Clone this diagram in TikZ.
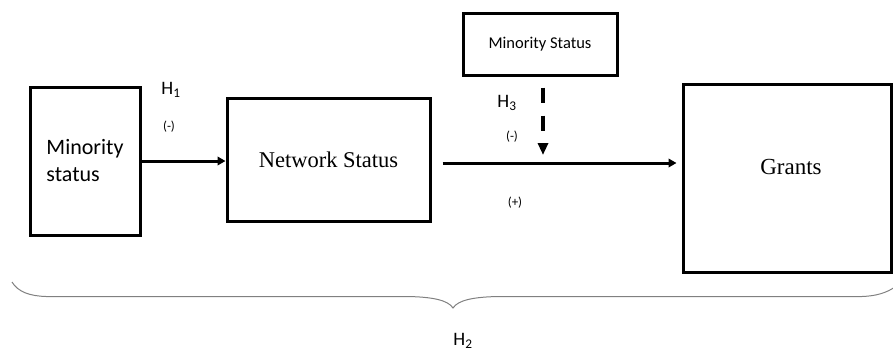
\documentclass[tikz,border=0pt]{standalone}
\usepackage{fontspec}
\setmainfont{Liberation Serif}
\newfontfamily\calib{Carlito}
\usetikzlibrary{arrows.meta}
\begin{document}
\begin{tikzpicture}[x=1pt,y=-1pt,
  box/.style={draw=black, line width=3pt, minimum width=#1, inner sep=0pt},
  arr/.style={line width=3pt, -{Triangle[length=8pt,width=8.5pt]}},
  dasharr/.style={line width=3.2pt, dash pattern=on 15pt off 13pt, -{Triangle[length=12pt,width=10pt]}},
  lab/.style={font=\calib\fontsize{19}{21}\selectfont, inner sep=0pt},
  sign/.style={font=\calib\fontsize{13}{15}\selectfont, inner sep=0pt}]
\useasboundingbox (0,0) rectangle (893,354);
% boxes
\node[box=110pt, minimum height=148pt, align=left,
      font=\calib\fontsize{22}{27}\selectfont] (minor) at (85,161) {Minority\\status};
\node[box=203pt, minimum height=123pt,
      font=\fontsize{22.5}{26}\selectfont] (net) at (328.5,159.5) {Network Status};
\node[box=208pt, minimum height=188pt] (grants) at (787,178) {};
\node[inner sep=0pt, font=\fontsize{23}{26}\selectfont] (grantstxt) at (791,167) {Grants};
\node[box=154pt, minimum height=62pt,
      font=\calib\fontsize{16.5}{19}\selectfont] (mod) at (540,44) {Minority Status};
% connectors
\draw[arr] (minor.east) -- (minor.east -| net.west);
\draw[arr, shorten <=11pt, shorten >=5pt] ([yshift=-3.5pt]net.east) -- ([yshift=-3.5pt]net.east -| grants.west);
\coordinate (hit) at (543,155);
\draw[dasharr, shorten <=11pt] (mod.south -| hit) -- (hit);
% labels
\node[lab] (h1) at (171,90) {H\textsubscript{1}};
\node[sign] (s1) at (169,127) {(-)};
\node[lab] (h3) at (507,103) {H\textsubscript{3}};
\node[sign] (s3) at (512,137) {(-)};
\node[sign] (s2) at (515,203) {(+)};
\node[lab] (h2) at (463,341) {H\textsubscript{2}};
% brace
\draw[black!50, line width=1pt]
  (12,282) .. controls (18,292) and (30,296) .. (46,296.5)
  -- (408,296.5) .. controls (432,297) and (448,300) .. (453,308)
  .. controls (458,300) and (474,297) .. (498,296.5)
  -- (862,296.5) .. controls (876,296) and (886,293) .. (895,287);
\end{tikzpicture}
\end{document}
